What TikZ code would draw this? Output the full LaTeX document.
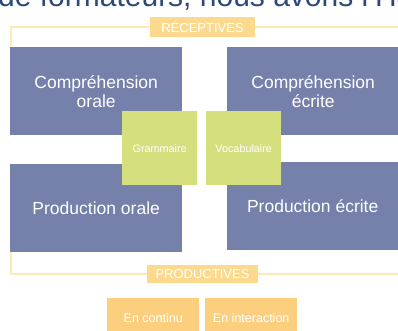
\documentclass[tikz,border=0pt]{standalone}
\usepackage{fontspec}
\setmainfont{Liberation Sans}
\definecolor{bluebox}{HTML}{7581AA}
\definecolor{greenbox}{HTML}{D6DF7E}
\definecolor{tag}{HTML}{FCD98C}
\definecolor{orangebox}{HTML}{FCCF7F}
\definecolor{bracket}{HTML}{FAEBB8}
\definecolor{titleblue}{HTML}{2C497A}
\tikzset{
  bigbox/.style={fill=bluebox, draw=none, text=white, anchor=north west, inner sep=0pt,
    minimum width=172pt, minimum height=88pt, align=center, font=\fontsize{17.5}{19}\selectfont},
  smallbox/.style={fill=greenbox, draw=none, text=white, anchor=north west, inner sep=0pt,
    minimum width=75pt, minimum height=74pt, font=\fontsize{10.8}{12}\selectfont},
  tagbox/.style={fill=tag, draw=none, text=white, inner sep=0pt, font=\fontsize{13}{14}\selectfont},
  subbox/.style={fill=orangebox, draw=none, text=white, anchor=north west, inner sep=0pt,
    minimum width=92pt, minimum height=40pt, font=\fontsize{12.5}{14}\selectfont},
  bracketline/.style={draw=bracket, line width=1.4pt},
}
\begin{document}
\begin{tikzpicture}[x=1pt,y=-1pt]
\useasboundingbox (0,0) rectangle (398,331);
\clip (0,0) rectangle (398,331);
\fill[white] (0,0) rectangle (398,331);
% cut-off title
\node[anchor=base west, inner sep=0pt, text=titleblue, font=\fontsize{30}{32}\selectfont] (title) at (-2,7) {de formateurs, nous avons l'Ha};
% tags
\node[tagbox, minimum width=105pt, minimum height=20pt] (rec) at (202.5,27) {RÉCEPTIVES};
\node[tagbox, minimum width=111pt, minimum height=18pt] (prod) at (202.5,274) {PRODUCTIVES};
\coordinate (tl) at (11,46);
\coordinate (tr) at (399,27);
\coordinate (bl) at (11,252);
\coordinate (br) at (399,274);
\draw[bracketline] (rec.west) -| (tl);
\draw[bracketline] (rec.east) -- (tr);
\draw[bracketline] (prod.west) -| (bl);
\draw[bracketline] (prod.east) -- (br);
% main boxes
\node[bigbox] (co) at (10,47) {Compréhension\\orale};
\node[bigbox] (ce) at (227,47) {Compréhension\\écrite};
\node[bigbox] (po) at (10,164) {Production orale};
\node[bigbox, minimum width=171pt] (pe) at (227,162) {Production écrite};
% overlapping boxes
\node[smallbox] (gram) at (122,111) {Grammaire};
\node[smallbox] (voc) at (206,111) {Vocabulaire};
% bottom boxes
\node[subbox] (cont) at (107,298) {En continu};
\node[subbox] (inter) at (205,298) {En interaction};
\end{tikzpicture}
\end{document}
